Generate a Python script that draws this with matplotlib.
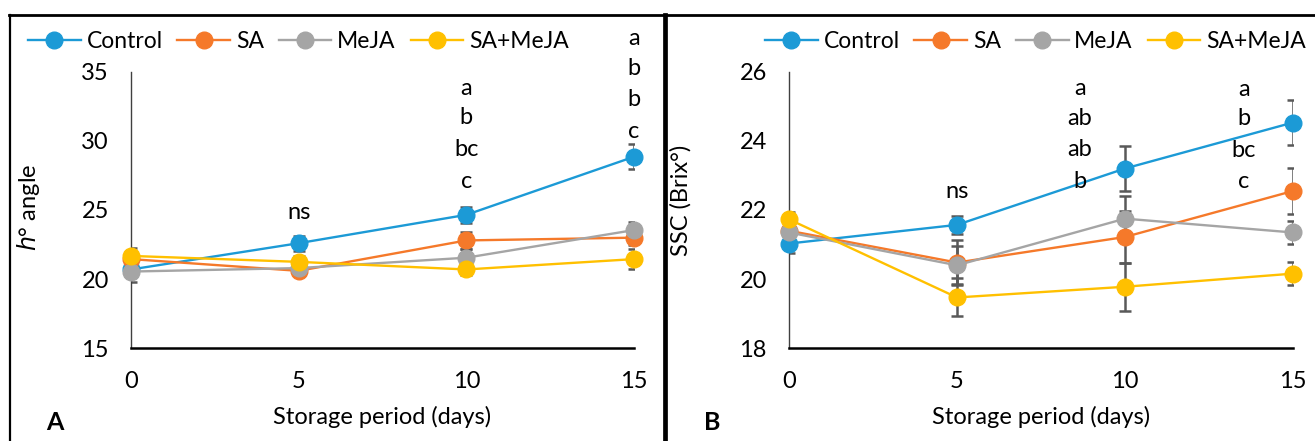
"""
plot.py
Two panels: h° angle (A) and SSC (B) over storage period for four treatments.
Output: out.png
"""
import numpy as np
import matplotlib
matplotlib.use("Agg")
import matplotlib.pyplot as plt
from matplotlib.lines import Line2D

plt.rcParams["font.family"] = ["Lato", "DejaVu Sans"]

days = [0, 5, 10, 15]
treatments = ["Control", "SA", "MeJA", "SA+MeJA"]
colors = ["#1C9AD6", "#F5792A", "#A5A5A5", "#FFC000"]

# panel A: h° angle
hue_control = [20.7, 22.6, 24.65, 28.85]
hue_sa = [21.45, 20.6, 22.8, 23.0]
hue_meja = [20.55, 20.8, 21.55, 23.55]
hue_samj = [21.68, 21.25, 20.7, 21.45]
hue_err_control = [0.3, 0.55, 0.6, 0.9]
hue_err_sa = [0.3, 0.4, 0.6, 0.5]
hue_err_meja = [0.75, 0.4, 0.6, 0.55]
hue_err_samj = [0.55, 0.4, 0.4, 0.75]

# panel B: SSC
ssc_control = [21.03, 21.57, 23.2, 24.53]
ssc_sa = [21.4, 20.48, 21.22, 22.55]
ssc_meja = [21.35, 20.4, 21.75, 21.35]
ssc_samj = [21.73, 19.47, 19.78, 20.16]
ssc_err_control = [0.26, 0.27, 0.64, 0.64]
ssc_err_sa = [0.2, 0.65, 0.74, 0.67]
ssc_err_meja = [0.2, 0.55, 0.65, 0.33]
ssc_err_samj = [0.2, 0.55, 0.7, 0.34]

# significance letters (x, y, text)
letters_a = [(5, 24.8, "ns"),
             (10, 33.8, "a"), (10, 31.7, "b"), (10, 29.4, "bc"), (10, 27.05, "c"),
             (15, 37.4, "a"), (15, 35.25, "b"), (15, 33.0, "b"), (15, 30.66, "c")]
letters_b = [(5, 22.53, "ns"),
             (8.66, 25.52, "a"), (8.66, 24.64, "ab"), (8.66, 23.75, "ab"), (8.66, 22.83, "b"),
             (13.53, 25.48, "a"), (13.53, 24.64, "b"), (13.53, 23.71, "bc"), (13.53, 22.82, "c")]

FS = 17
W, H = 1315, 441


def draw_panel(ax, series, errs, ylim, yticks, ylabel, letters, legend_x, tag, tag_x):
    for vals, err in zip(series, errs):
        ax.errorbar(days, vals, yerr=err, fmt="none", ecolor="#595959",
                    elinewidth=1.8, capsize=4.5, capthick=1.8, zorder=2)
    for vals, c, name in zip(series, colors, treatments):
        ax.plot(days, vals, "-o", color=c, lw=1.7, ms=12, label=name,
                zorder=3, clip_on=False)

    ax.set_xlim(0, 15)
    ax.set_ylim(*ylim)
    ax.set_xticks(days)
    ax.set_yticks(yticks)
    ax.tick_params(length=0, labelsize=FS, pad=16)
    for s in ("top", "right"):
        ax.spines[s].set_visible(False)
    ax.spines["left"].set_color("#404040")
    ax.spines["left"].set_linewidth(1.0)
    ax.spines["bottom"].set_color("black")
    ax.spines["bottom"].set_linewidth(1.8)

    ax.set_ylabel(ylabel, fontsize=FS)
    ax.set_xlabel("Storage period (days)", fontsize=FS)
    ax.xaxis.set_label_coords(0.5, -0.25)
    ax.xaxis.label.set_va("center")

    for x, y, t in letters:
        ax.text(x, y, t, ha="center", va="center", fontsize=FS, clip_on=False)

    ax.legend(loc="center left", bbox_to_anchor=(legend_x / W, 1 - 42 / H),
              bbox_transform=ax.figure.transFigure, ncol=4, frameon=False,
              fontsize=16.5, handlelength=2.3, handletextpad=0.25,
              columnspacing=0.65, borderpad=0, borderaxespad=0)

    ax.figure.text(tag_x / W, 1 - 422 / H, tag, fontsize=18, fontweight="bold",
                   ha="center", va="center")


fig = plt.figure(figsize=(13.15, 4.41), dpi=100)
ax_a = fig.add_axes([131 / W, 1 - 348.3 / H, 503 / W, 276.6 / H])
ax_b = fig.add_axes([789 / W, 1 - 348.3 / H, 504 / W, 276.6 / H])

draw_panel(ax_a, [hue_control, hue_sa, hue_meja, hue_samj],
           [hue_err_control, hue_err_sa, hue_err_meja, hue_err_samj],
           (15, 35), [15, 20, 25, 30, 35], r"$h$° angle", letters_a, 28, "A", 55)
ax_a.yaxis.set_label_coords(-0.177, 0.51)

draw_panel(ax_b, [ssc_control, ssc_sa, ssc_meja, ssc_samj],
           [ssc_err_control, ssc_err_sa, ssc_err_meja, ssc_err_samj],
           (18, 26), [18, 20, 22, 24, 26], "SSC (Brix°)", letters_b, 765, "B", 712)
ax_b.yaxis.set_label_coords(-0.194, 0.536)

# outer frame lines
fig.add_artist(Line2D([9 / W, 1.0], [1 - 15 / H, 1 - 15 / H], color="black", lw=2.0))
fig.add_artist(Line2D([10 / W, 10 / W], [0, 1 - 15 / H], color="black", lw=1.6))
fig.add_artist(Line2D([664.5 / W, 664.5 / W], [0, 1 - 15 / H], color="black", lw=3.4))

fig.savefig("out.png", dpi=100)
plt.close(fig)
